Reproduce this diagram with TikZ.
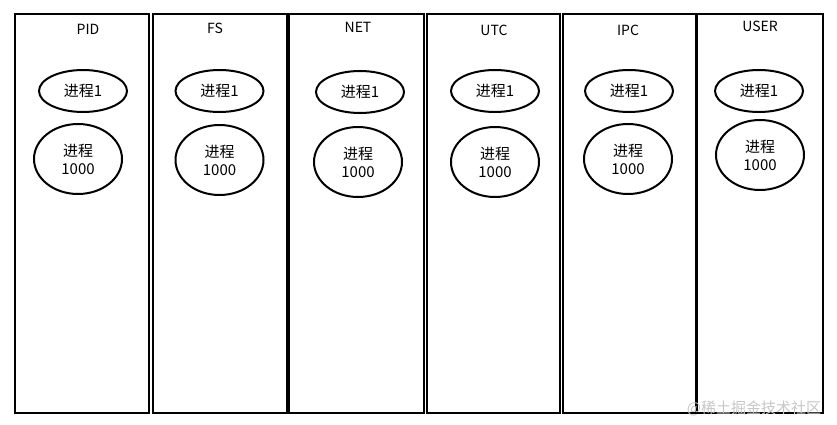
\documentclass[tikz,border=0pt]{standalone}
\usepackage{fontspec}
\setmainfont{Noto Sans CJK SC}
\usetikzlibrary{positioning, shapes.geometric}

\begin{document}
\begin{tikzpicture}[x=1pt, y=-1pt,
    col/.style={draw, line width=2.2pt, minimum width=#1, minimum height=399pt, inner sep=0pt},
    ttl/.style={font=\fontsize{14}{14}\selectfont, anchor=center},
    proc/.style={draw, ellipse, line width=2pt, minimum width=88pt, minimum height=42pt,
                 inner sep=0pt, font=\fontsize{15}{15}\selectfont},
    bigproc/.style={proc, minimum height=70pt, align=center, font=\fontsize{15}{18}\selectfont}
]
    \useasboundingbox (0,0) rectangle (837,425);
    % --- PID ---
    \node[col=134pt] (pid) at (82,213.5) {};
    \node[ttl] (pidt) at (88,29) {PID};
    \node[proc] (pid1) at (83,91) {进程1};
    \node[bigproc] (pidn) at (78,159) {进程\\1000};
    % --- FS ---
    \node[col=134pt] (fs) at (220,213.5) {};
    \node[ttl] (fst) at (215,28) {FS};
    \node[proc] (fs1) at (219.5,91) {进程1};
    \node[bigproc] (fsn) at (219.5,160) {进程\\1000};
    % --- NET ---
    \node[col=135pt] (net) at (356.5,213.5) {};
    \node[ttl] (nett) at (358,27) {NET};
    \node[proc] (net1) at (360,92) {进程1};
    \node[bigproc] (netn) at (358,162) {进程\\1000};
    % --- UTC ---
    \node[col=133pt] (utc) at (493.5,213.5) {};
    \node[ttl] (utct) at (494,30) {UTC};
    \node[proc] (utc1) at (495,91) {进程1};
    \node[bigproc] (utcn) at (495,162) {进程\\1000};
    % --- IPC ---
    \node[col=133pt] (ipc) at (629.5,213.5) {};
    \node[ttl] (ipct) at (628,30) {IPC};
    \node[proc] (ipc1) at (629,91) {进程1};
    \node[bigproc] (ipcn) at (628,159) {进程\\1000};
    % --- USER ---
    \node[col=126pt] (user) at (760,213.5) {};
    \node[ttl] (usert) at (760,26) {USER};
    \node[proc] (user1) at (759,91) {进程1};
    \node[bigproc] (usern) at (760,155) {进程\\1000};
    % --- watermark ---
    \node[font=\fontsize{15}{15}\selectfont, text=gray!45] (wm) at (754,408) {@稀土掘金技术社区};
\end{tikzpicture}
\end{document}
